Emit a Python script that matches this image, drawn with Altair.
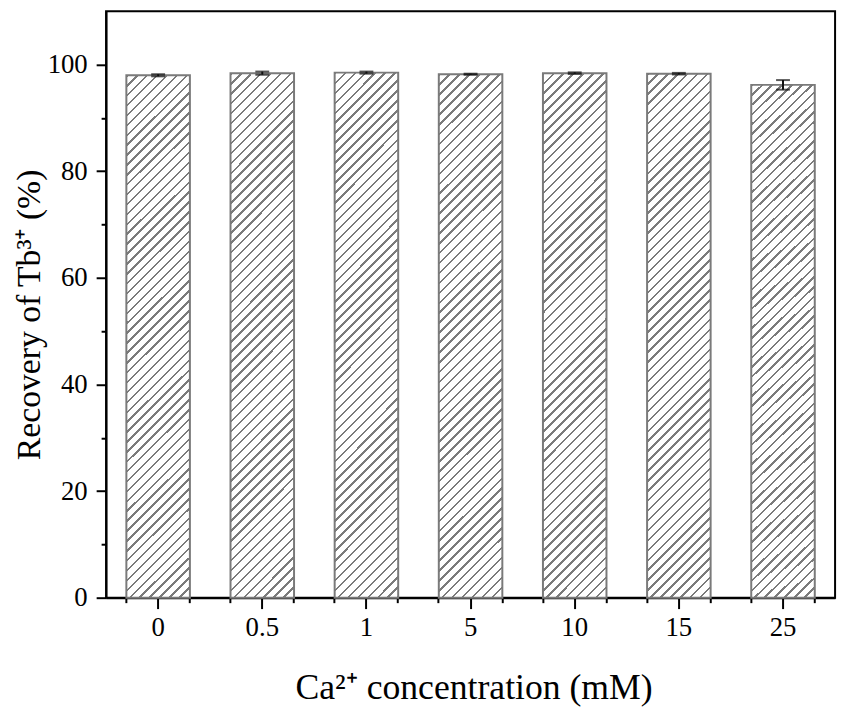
import altair as alt
import pandas as pd

# ---- data ----
conc = ["0", "0.5", "1", "5", "10", "15", "25"]
recovery = [98.0, 98.4, 98.5, 98.2, 98.4, 98.3, 96.2]
err = [0.2, 0.3, 0.2, 0.1, 0.15, 0.15, 0.9]

df = pd.DataFrame({"conc": conc, "recovery": recovery, "err": err})
df["lo"] = df["recovery"] - df["err"]
df["hi"] = df["recovery"] + df["err"]

FONT = "Liberation Serif"
HATCH = "#7b7b7b"

# hatch pattern as a hard-stop linear gradient (style only)
n_lines = 64
period = 1.0 / n_lines
line_w = period / 4.0
stops = []
for i in range(n_lines):
    b = i * period
    for off, col in [(b, HATCH), (b + line_w, HATCH), (b + line_w, "white"), (b + period, "white")]:
        o = min(1.0, round(off, 6))
        stops.append(alt.GradientStop(color=col, offset=o))
hatch = alt.LinearGradient(gradient="linear", stops=stops, x1=0, y1=0, x2=0.1448, y2=1.1945)

xscale = alt.Scale(paddingInner=0.39, paddingOuter=0.195)
yscale = alt.Scale(domain=[0, 110], nice=False, zero=True)

common_axis = dict(domainColor="black", domainWidth=2, tickColor="black", tickWidth=2,
                   grid=False, labelFont=FONT, labelColor="black", titleFont=FONT,
                   titleColor="black", titleFontWeight="normal")

base = alt.Chart(df)

bars = base.mark_bar(fill=hatch, stroke="#7a7a7a", strokeWidth=2).encode(
    x=alt.X("conc:N", sort=conc, scale=xscale,
            axis=alt.Axis(orient="bottom", title="Ca²⁺ concentration (mM)", labelAngle=0,
                          tickSize=11, labelFontSize=27, labelPadding=27,
                          labelBaseline="alphabetic", titleFontSize=36,
                          titleX=371, titleY=102, titleBaseline="alphabetic",
                          titleAlign="center", **common_axis)),
    y=alt.Y("recovery:Q", scale=yscale,
            axis=alt.Axis(orient="left", title="Recovery of Tb³⁺ (%)", values=[0, 20, 40, 60, 80, 100],
                          tickSize=10, labelFontSize=27, labelPadding=9,
                          titleFontSize=34, titleAngle=270, titleX=-67, titleY=306,
                          titleBaseline="alphabetic", titleAlign="center", **common_axis)),
)

rules = base.mark_rule(color="#111111", strokeWidth=2).encode(
    x=alt.X("conc:N", sort=conc, scale=xscale, axis=None),
    y=alt.Y("lo:Q", scale=yscale, axis=None),
    y2="hi:Q",
)

caps_lo = base.mark_tick(color="#111111", size=14, thickness=2).encode(
    x=alt.X("conc:N", sort=conc, scale=xscale, axis=None),
    y=alt.Y("lo:Q", scale=yscale, axis=None),
)
caps_hi = base.mark_tick(color="#111111", size=14, thickness=2).encode(
    x=alt.X("conc:N", sort=conc, scale=xscale, axis=None),
    y=alt.Y("hi:Q", scale=yscale, axis=None),
)

minor_axis = dict(domain=False, labels=False, tickColor="black", tickWidth=2, grid=False, tickSize=5)

minor1 = base.mark_tick(opacity=0).encode(
    x=alt.X("conc:N", sort=conc, scale=xscale, title=None,
            axis=alt.Axis(orient="bottom", bandPosition=0, **minor_axis)),
    y=alt.Y("recovery:Q", scale=yscale, title=None,
            axis=alt.Axis(orient="left", values=[10, 30, 50, 70, 90], **minor_axis)),
)
minor2 = base.mark_tick(opacity=0).encode(
    x=alt.X("conc:N", sort=conc, scale=xscale, title=None,
            axis=alt.Axis(orient="bottom", bandPosition=1, **minor_axis)),
    y=alt.Y("recovery:Q", scale=yscale, axis=None),
)

chart = alt.layer(bars, rules, caps_lo, caps_hi, minor1, minor2).resolve_axis(
    x="independent", y="independent"
).properties(
    width=736, height=592,
    padding={"left": 99, "top": 0, "right": 8, "bottom": 107},
    autosize=alt.AutoSizeParams(type="none"),
).configure_view(stroke="black", strokeWidth=2)

chart.save("out.html", embed_options={"renderer": "svg", "actions": False})
